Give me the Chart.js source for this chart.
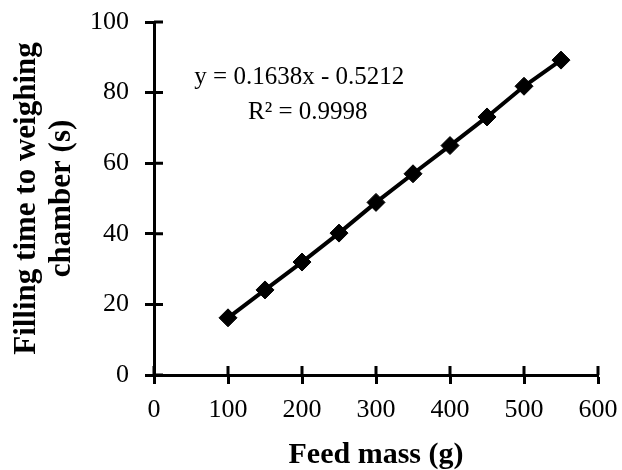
<!DOCTYPE html>
<html>
<head>
<meta charset="utf-8">
<script src="https://cdn.jsdelivr.net/npm/chart.js@4"></script>
<style>
  html, body { margin: 0; padding: 0; background: #fff; }
  #wrap { width: 622px; height: 470px; }
</style>
</head>
<body>
<div id="wrap"><canvas id="myChart" width="622" height="470"></canvas></div>
<script>
Chart.defaults.font.family = "'Liberation Serif', 'Times New Roman', serif";
Chart.defaults.color = "#000";

const feedMass = [100, 150, 200, 250, 300, 350, 400, 450, 500, 550];
const fillTime = [16.2, 24.1, 32.0, 40.2, 48.9, 57.0, 65.0, 73.1, 81.8, 89.2];
const xTicks = [0, 100, 200, 300, 400, 500, 600];
const yTicks = [0, 20, 40, 60, 80, 100];
const equationLines = ["y = 0.1638x - 0.5212", "R\u00b2 = 0.9998"];

// ticks in the reference cross the axis, so draw the inner half too
const crossTicks = {
	id: "crossTicks",
	afterDraw(chart) {
		const { ctx, scales } = chart;
		const x = scales.x, y = scales.y;
		ctx.save();
		ctx.strokeStyle = "#000";
		ctx.lineWidth = 3;
		ctx.beginPath();
		xTicks.forEach((v) => {
			const px = x.getPixelForValue(v);
			ctx.moveTo(px, y.bottom);
			ctx.lineTo(px, y.bottom - 9);
		});
		yTicks.forEach((v) => {
			const py = y.getPixelForValue(v);
			ctx.moveTo(x.left, py);
			ctx.lineTo(x.left + 9, py);
		});
		ctx.stroke();

		// trendline label
		ctx.font = "25px 'Liberation Serif', 'Times New Roman', serif";
		ctx.fillStyle = "#000";
		ctx.textAlign = "left";
		ctx.textBaseline = "middle";
		ctx.fillText(equationLines[0], x.getPixelForValue(54.5), y.getPixelForValue(84.3));
		ctx.fillText(equationLines[1], x.getPixelForValue(127), y.getPixelForValue(74.4));
		ctx.restore();
	},
};

const data = {
	datasets: [
		{
			data: feedMass.map((m, i) => ({ x: m, y: fillTime[i] })),
			showLine: true,
			borderColor: "#000",
			backgroundColor: "#000",
			borderWidth: 4,
			pointStyle: "rectRot",
			pointRadius: 9,
			pointHoverRadius: 9,
			pointBorderWidth: 1,
		},
	],
};

const config = {
	type: "scatter",
	data,
	options: {
		responsive: false,
		animation: false,
		layout: {
			padding: { top: 22, right: 24, left: 0, bottom: 0 },
		},
		plugins: {
			legend: { display: false },
			tooltip: { enabled: false },
		},
		scales: {
			x: {
				type: "linear",
				min: 0,
				max: 600,
				afterBuildTicks: (s) => { s.ticks = xTicks.map((v) => ({ value: v })); },
				afterFit: (s) => {
					s.height = 95;
					s.paddingLeft = 0;
					s.paddingRight = 0;
				},
				border: { display: true, color: "#000", width: 3 },
				grid: {
					display: true,
					drawOnChartArea: false,
					drawTicks: true,
					tickLength: 9,
					tickWidth: 3,
					tickColor: "#000",
				},
				ticks: {
					padding: 11,
					maxRotation: 0,
					font: { size: 26 },
				},
				title: {
					display: true,
					text: "Feed mass (g)",
					font: { size: 30, weight: "bold", lineHeight: 1.0 },
					padding: { top: 10, bottom: 0 },
				},
			},
			y: {
				type: "linear",
				min: 0,
				max: 100,
				afterBuildTicks: (s) => { s.ticks = yTicks.map((v) => ({ value: v })); },
				afterFit: (s) => {
					s.width = 154;
					s.paddingTop = 0;
					s.paddingBottom = 0;
				},
				border: { display: true, color: "#000", width: 3 },
				grid: {
					display: true,
					drawOnChartArea: false,
					drawTicks: true,
					tickLength: 9,
					tickWidth: 3,
					tickColor: "#000",
				},
				ticks: {
					padding: 16,
					font: { size: 26 },
				},
				title: {
					display: true,
					text: ["Filling time to weighing", "chamber (s)"],
					font: { size: 31, weight: "bold", lineHeight: 1.13 },
					padding: { top: 9, bottom: 0 },
				},
			},
		},
	},
	plugins: [crossTicks],
};

const ctx = document.getElementById("myChart").getContext("2d");
new Chart(ctx, config);
</script>
</body>
</html>
